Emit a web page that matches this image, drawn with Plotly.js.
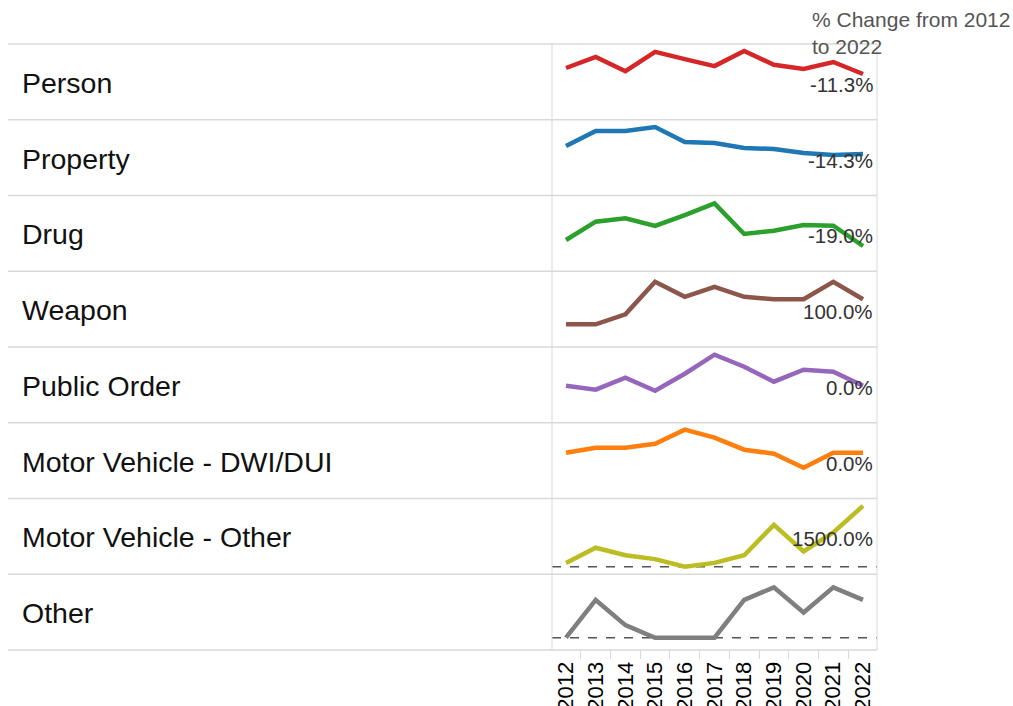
<!DOCTYPE html>
<html>
<head>
<meta charset="utf-8">
<script src="https://cdn.plot.ly/plotly-3.0.1.min.js"></script>
<style>html,body{margin:0;padding:0;background:#fff;}#chart{width:1013px;height:706px;}</style>
</head>
<body>
<div id="chart"></div>
<script>
// ---- data ----
var years = [2012, 2013, 2014, 2015, 2016, 2017, 2018, 2019, 2020, 2021, 2022];
var categories = ['Person', 'Property', 'Drug', 'Weapon', 'Public Order',
                  'Motor Vehicle - DWI/DUI', 'Motor Vehicle - Other', 'Other'];
var person      = [168, 203, 158, 219, 196, 174, 222, 178, 165, 187, 149];
var property    = [350, 444, 444, 469, 375, 369, 338, 331, 306, 294, 300];
var drug        = [200, 316, 337, 289, 358, 432, 238, 259, 295, 291, 162];
var weapon      = [10, 10, 14, 27, 21, 25, 21, 20, 20, 27, 20];
var publicOrder = [60, 56, 68, 55, 72, 91, 79, 64, 76, 74, 60];
var dwi         = [120, 125, 125, 129, 143, 135, 123, 119, 105, 120, 120];
var mvOther     = [1, 5, 3, 2, 0, 1, 3, 11, 4, 9, 16];
var other       = [0, 3, 1, 0, 0, 0, 3, 4, 2, 4, 3];
var headerText  = '% Change from 2012<br>to 2022';

var series = [person, property, drug, weapon, publicOrder, dwi, mvOther, other];
var colors = ['#d62728', '#1f77b4', '#2ca02c', '#8c564b', '#9467bd', '#ff7f0e', '#bcbd22', '#7f7f7f'];
var yRanges = [[4.0, 244.1], [40.6, 514], [2.2, 481.7], [0.92, 31.2],
               [22.95, 98.7], [74.2, 149.95], [-1.99, 17.95], [-0.976, 5.04]];
var showZero = [false, false, false, false, false, false, true, true];

(function () {
var W = 1013, H = 706;
var FONT = 'Arial, "Liberation Sans", sans-serif';
var panelL = 552 / W, panelR = 877 / W;
var n = categories.length;

var traces = [];
var layout = {
  width: W, height: H, autosize: false,
  margin: {l: 0, r: 0, t: 44, b: 56, pad: 0},
  paper_bgcolor: '#fff', plot_bgcolor: 'rgba(0,0,0,0)',
  showlegend: false, hovermode: false,
  font: {family: FONT},
  shapes: [], annotations: []
};

layout.xaxis = {
  domain: [panelL, panelR],
  range: [2011.529, 2022.471],
  anchor: 'y' + n,
  tickmode: 'array', tickvals: years, ticktext: years.map(String),
  tickangle: -90, tickfont: {family: FONT, size: 22, color: '#000'},
  ticks: 'outside', ticklen: 2, tickcolor: 'rgba(0,0,0,0)',
  minor: {tick0: 2011.5, dtick: 1, ticks: 'outside', ticklen: 8, tickcolor: '#d9d9d9', tickwidth: 1, showgrid: false},
  showgrid: false, zeroline: false, showline: false, fixedrange: true
};

for (var r = 0; r < n; r++) {
  var yname = r === 0 ? 'y' : 'y' + (r + 1);
  var axname = r === 0 ? 'yaxis' : 'yaxis' + (r + 1);
  var yTop = 1 - r / n, yBot = 1 - (r + 1) / n;
  layout[axname] = {
    domain: [yBot, yTop], range: yRanges[r], anchor: 'x',
    showgrid: false, zeroline: false, showline: false, showticklabels: false,
    ticks: '', fixedrange: true
  };
  traces.push({
    x: years, y: series[r], xaxis: 'x', yaxis: yname,
    type: 'scatter', mode: 'lines',
    line: {color: colors[r], width: 4.5, shape: 'linear'},
    hoverinfo: 'skip'
  });
  if (showZero[r]) {
    layout.shapes.push({
      type: 'line', xref: 'paper', yref: yname,
      x0: panelL, x1: panelR, y0: 0, y1: 0,
      line: {color: '#555', width: 1.5, dash: 'dash'}, layer: 'below'
    });
  }
  layout.annotations.push({
    xref: 'paper', yref: 'paper', x: 20 / W, y: (yTop + yBot) / 2,
    xanchor: 'left', yanchor: 'middle', showarrow: false, yshift: -1,
    text: categories[r], font: {family: FONT, size: 28.5, color: '#111'}
  });
  var first = series[r][0], last = series[r][series[r].length - 1];
  if (first !== 0) {
    var pct = (last - first) / first * 100;
    layout.annotations.push({
      xref: 'paper', yref: 'paper', x: 875 / W, y: (yTop + yBot) / 2,
      xanchor: 'right', yanchor: 'middle', showarrow: false, yshift: -2.5,
      text: pct.toFixed(1) + '%', font: {family: FONT, size: 20.5, color: '#333'}
    });
  }
}

for (var k = 0; k <= n; k++) {
  layout.shapes.push({
    type: 'line', xref: 'paper', yref: 'paper',
    x0: 8 / W, x1: panelR, y0: 1 - k / n, y1: 1 - k / n,
    line: {color: '#d9d9d9', width: 1.5}, layer: 'below'
  });
}
[panelL, panelR].forEach(function (xv) {
  layout.shapes.push({
    type: 'line', xref: 'paper', yref: 'paper',
    x0: xv, x1: xv, y0: 0, y1: 1,
    line: {color: '#d9d9d9', width: 1}, layer: 'below'
  });
});

layout.annotations.push({
  xref: 'paper', yref: 'paper', x: 810 / W, y: (650 - 6) / 606,
  xanchor: 'left', yanchor: 'top', align: 'left', showarrow: false,
  text: headerText, font: {family: FONT, size: 21, color: '#555'}
});

Plotly.newPlot('chart', traces, layout, {staticPlot: true, displayModeBar: false});
})();
</script>
</body>
</html>
